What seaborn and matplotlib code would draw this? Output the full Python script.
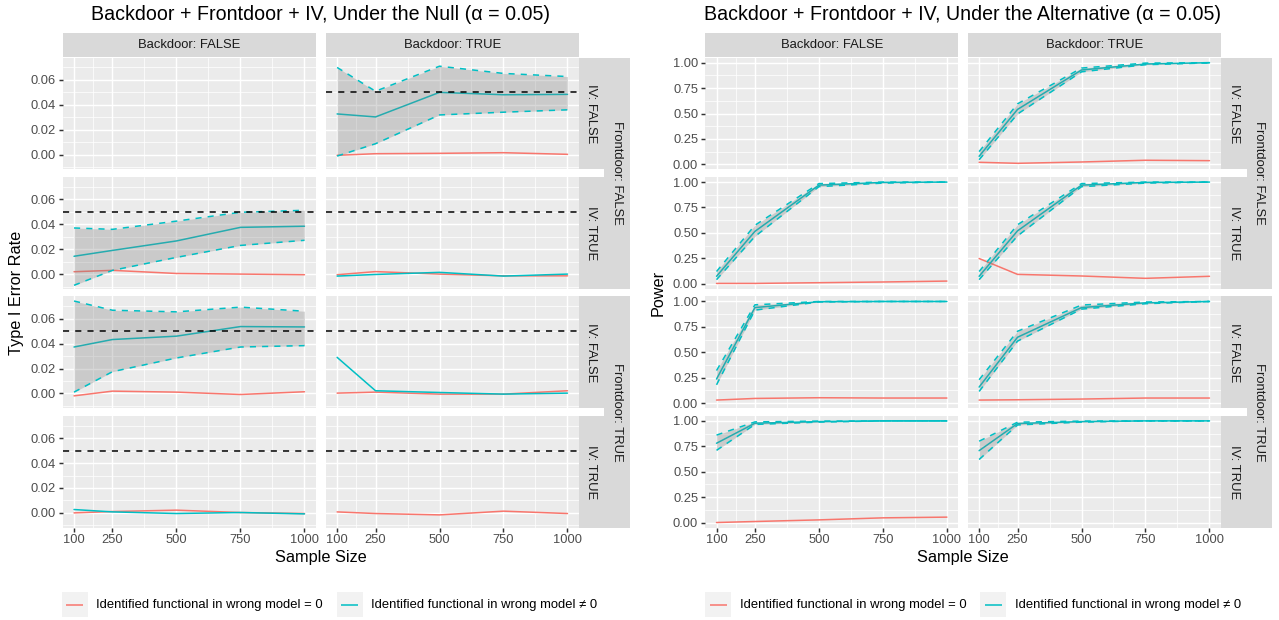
import matplotlib
matplotlib.use("Agg")
import matplotlib.pyplot as plt
import seaborn as sns
from matplotlib.patches import Rectangle
from matplotlib.lines import Line2D
from matplotlib.legend_handler import HandlerBase

# ---------------- data ----------------
sizes = [100, 250, 500, 750, 1000]
x_tick_labels = ["100", "250", "500", "750", "1000"]
x_minor = [175, 375, 625, 875]

backdoor_labels = ["Backdoor: FALSE", "Backdoor: TRUE"]
iv_labels = ["IV: FALSE", "IV: TRUE"]
frontdoor_labels = ["Frontdoor: FALSE", "Frontdoor: TRUE"]
legend_labels = ["Identified functional in wrong model = 0",
                 "Identified functional in wrong model \u2260 0"]

null_title = "Backdoor + Frontdoor + IV, Under the Null (\u03b1 = 0.05)"
alt_title = "Backdoor + Frontdoor + IV, Under the Alternative (\u03b1 = 0.05)"
null_ylabel = "Type I Error Rate"
alt_ylabel = "Power"
xlabel = "Sample Size"
alpha_level = 0.05

null_yticks = [0.00, 0.02, 0.04, 0.06]
null_yminor = [-0.01, 0.01, 0.03, 0.05, 0.07]
alt_yticks = [0.00, 0.25, 0.50, 0.75, 1.00]
alt_yminor = [0.125, 0.375, 0.625, 0.875]

# --- Under the Null (type I error rate); FD = frontdoor, IV, BD = backdoor (0/1)
null_FD0_IV0_BD1_zero = [-0.0005, 0.0008, 0.0011, 0.0016, 0.0003]
null_FD0_IV0_BD1_nonzero = [0.0327, 0.0303, 0.0500, 0.0481, 0.0484]
null_FD0_IV0_BD1_lower = [-0.0011, 0.0088, 0.0319, 0.0341, 0.0360]
null_FD0_IV0_BD1_upper = [0.0700, 0.0509, 0.0710, 0.0652, 0.0627]

null_FD0_IV1_BD0_zero = [0.0019, 0.0030, 0.0005, 0.0000, -0.0005]
null_FD0_IV1_BD0_nonzero = [0.0143, 0.0190, 0.0266, 0.0375, 0.0384]
null_FD0_IV1_BD0_lower = [-0.0090, 0.0030, 0.0134, 0.0230, 0.0271]
null_FD0_IV1_BD0_upper = [0.0370, 0.0359, 0.0425, 0.0496, 0.0512]

null_FD0_IV1_BD1_zero = [-0.0005, 0.0020, 0.0000, -0.0014, -0.0014]
null_FD0_IV1_BD1_nonzero = [-0.0016, -0.0003, 0.0014, -0.0016, 0.0000]

null_FD1_IV0_BD0_zero = [-0.0019, 0.0019, 0.0011, -0.0008, 0.0014]
null_FD1_IV0_BD0_nonzero = [0.0373, 0.0433, 0.0460, 0.0537, 0.0534]
null_FD1_IV0_BD0_lower = [0.0011, 0.0175, 0.0285, 0.0373, 0.0384]
null_FD1_IV0_BD0_upper = [0.0742, 0.0668, 0.0655, 0.0693, 0.0660]

null_FD1_IV0_BD1_zero = [0.0003, 0.0011, -0.0005, -0.0005, 0.0022]
null_FD1_IV0_BD1_nonzero = [0.0290, 0.0022, 0.0008, -0.0005, 0.0003]

null_FD1_IV1_BD0_zero = [0.0000, 0.0011, 0.0022, 0.0003, -0.0005]
null_FD1_IV1_BD0_nonzero = [0.0027, 0.0008, -0.0005, 0.0003, -0.0008]

null_FD1_IV1_BD1_zero = [0.0008, -0.0005, -0.0016, 0.0014, -0.0005]

# --- Under the Alternative (power)
alt_FD0_IV0_BD1_zero = [0.020, 0.010, 0.023, 0.040, 0.036]
alt_FD0_IV0_BD1_nonzero = [0.079, 0.540, 0.928, 0.987, 1.000]
alt_FD0_IV0_BD1_lower = [0.045, 0.495, 0.910, 0.980, 0.998]
alt_FD0_IV0_BD1_upper = [0.125, 0.595, 0.947, 0.996, 1.000]

alt_FD0_IV1_BD0_zero = [0.003, 0.003, 0.010, 0.017, 0.026]
alt_FD0_IV1_BD0_nonzero = [0.073, 0.515, 0.970, 0.997, 1.000]
alt_FD0_IV1_BD0_lower = [0.040, 0.465, 0.955, 0.990, 1.000]
alt_FD0_IV1_BD0_upper = [0.120, 0.575, 0.985, 1.000, 1.000]

alt_FD0_IV1_BD1_zero = [0.248, 0.092, 0.076, 0.053, 0.073]
alt_FD0_IV1_BD1_nonzero = [0.073, 0.520, 0.970, 0.997, 1.000]
alt_FD0_IV1_BD1_lower = [0.040, 0.470, 0.955, 0.990, 1.000]
alt_FD0_IV1_BD1_upper = [0.120, 0.580, 0.985, 1.000, 1.000]

alt_FD1_IV0_BD0_zero = [0.030, 0.046, 0.053, 0.050, 0.050]
alt_FD1_IV0_BD0_nonzero = [0.237, 0.940, 0.998, 1.000, 1.000]
alt_FD1_IV0_BD0_lower = [0.180, 0.915, 0.995, 1.000, 1.000]
alt_FD1_IV0_BD0_upper = [0.320, 0.967, 1.000, 1.000, 1.000]

alt_FD1_IV0_BD1_zero = [0.030, 0.033, 0.040, 0.050, 0.050]
alt_FD1_IV0_BD1_nonzero = [0.158, 0.648, 0.940, 0.987, 1.000]
alt_FD1_IV0_BD1_lower = [0.115, 0.610, 0.925, 0.978, 1.000]
alt_FD1_IV0_BD1_upper = [0.230, 0.707, 0.965, 0.995, 1.000]

alt_FD1_IV1_BD0_zero = [0.000, 0.010, 0.026, 0.046, 0.053]
alt_FD1_IV1_BD0_nonzero = [0.780, 0.977, 0.993, 1.000, 1.000]
alt_FD1_IV1_BD0_lower = [0.710, 0.965, 0.988, 1.000, 1.000]
alt_FD1_IV1_BD0_upper = [0.860, 0.990, 0.998, 1.000, 1.000]

alt_FD1_IV1_BD1_nonzero = [0.707, 0.974, 0.993, 1.000, 1.000]
alt_FD1_IV1_BD1_lower = [0.620, 0.960, 0.988, 1.000, 1.000]
alt_FD1_IV1_BD1_upper = [0.800, 0.987, 0.998, 1.000, 1.000]

# panel registry (row = (frontdoor, iv), col = backdoor)
null_panels = {
    (0, 0, 0): None,
    (0, 0, 1): dict(zero=null_FD0_IV0_BD1_zero, nonzero=null_FD0_IV0_BD1_nonzero,
                    lower=null_FD0_IV0_BD1_lower, upper=null_FD0_IV0_BD1_upper, hline=True),
    (0, 1, 0): dict(zero=null_FD0_IV1_BD0_zero, nonzero=null_FD0_IV1_BD0_nonzero,
                    lower=null_FD0_IV1_BD0_lower, upper=null_FD0_IV1_BD0_upper, hline=True),
    (0, 1, 1): dict(zero=null_FD0_IV1_BD1_zero, nonzero=null_FD0_IV1_BD1_nonzero, hline=True),
    (1, 0, 0): dict(zero=null_FD1_IV0_BD0_zero, nonzero=null_FD1_IV0_BD0_nonzero,
                    lower=null_FD1_IV0_BD0_lower, upper=null_FD1_IV0_BD0_upper, hline=True),
    (1, 0, 1): dict(zero=null_FD1_IV0_BD1_zero, nonzero=null_FD1_IV0_BD1_nonzero, hline=True),
    (1, 1, 0): dict(zero=null_FD1_IV1_BD0_zero, nonzero=null_FD1_IV1_BD0_nonzero, hline=True),
    (1, 1, 1): dict(zero=null_FD1_IV1_BD1_zero, hline=True),
}
alt_panels = {
    (0, 0, 0): None,
    (0, 0, 1): dict(zero=alt_FD0_IV0_BD1_zero, nonzero=alt_FD0_IV0_BD1_nonzero,
                    lower=alt_FD0_IV0_BD1_lower, upper=alt_FD0_IV0_BD1_upper),
    (0, 1, 0): dict(zero=alt_FD0_IV1_BD0_zero, nonzero=alt_FD0_IV1_BD0_nonzero,
                    lower=alt_FD0_IV1_BD0_lower, upper=alt_FD0_IV1_BD0_upper),
    (0, 1, 1): dict(zero=alt_FD0_IV1_BD1_zero, nonzero=alt_FD0_IV1_BD1_nonzero,
                    lower=alt_FD0_IV1_BD1_lower, upper=alt_FD0_IV1_BD1_upper),
    (1, 0, 0): dict(zero=alt_FD1_IV0_BD0_zero, nonzero=alt_FD1_IV0_BD0_nonzero,
                    lower=alt_FD1_IV0_BD0_lower, upper=alt_FD1_IV0_BD0_upper),
    (1, 0, 1): dict(zero=alt_FD1_IV0_BD1_zero, nonzero=alt_FD1_IV0_BD1_nonzero,
                    lower=alt_FD1_IV0_BD1_lower, upper=alt_FD1_IV0_BD1_upper),
    (1, 1, 0): dict(zero=alt_FD1_IV1_BD0_zero, nonzero=alt_FD1_IV1_BD0_nonzero,
                    lower=alt_FD1_IV1_BD0_lower, upper=alt_FD1_IV1_BD0_upper),
    (1, 1, 1): dict(nonzero=alt_FD1_IV1_BD1_nonzero,
                    lower=alt_FD1_IV1_BD1_lower, upper=alt_FD1_IV1_BD1_upper),
}

# ---------------- style ----------------
sns.set_theme(style="darkgrid")
plt.rcParams["font.family"] = ["Liberation Sans", "DejaVu Sans"]

RED = "#F8766D"
CYAN = "#00BFC4"
PANEL_BG = "#EBEBEB"
STRIP_BG = "#D9D9D9"
KEY_BG = "#F2F2F2"
LW = 1.1
DASH = (0, (4, 4))
FS_TICK = 9.3
FS_STRIP = 9.4
FS_LEG = 9.4
FS_AXT = 11.7
FS_TITLE = 14.1

W, H = 1279, 620
fig = plt.figure(figsize=(W / 100, H / 100), dpi=100)
fig.patch.set_facecolor("white")


class KeyHandler(HandlerBase):
    """ggplot-like legend key: grey box with an inset line in the middle."""

    def create_artists(self, legend, orig_handle, xdescent, ydescent, width, height,
                       fontsize, trans):
        box = Rectangle((-xdescent, -ydescent), width, height, facecolor=KEY_BG,
                        edgecolor="none", transform=trans)
        yc = -ydescent + height / 2
        inset = 0.17 * width
        line = Line2D([-xdescent + inset, -xdescent + width - inset], [yc, yc],
                      color=orig_handle.get_color(), lw=orig_handle.get_linewidth(),
                      transform=trans, solid_capstyle="butt")
        return [box, line]


def add_px(x0, y0, x1, y1):
    return fig.add_axes([x0 / W, 1 - y1 / H, (x1 - x0) / W, (y1 - y0) / H])


ROW_TOP0, ROW_H, ROW_STEP = 57.6, 111.8, 119.4
STRIP_Y = (32.5, 56.9)


def strip(x0, y0, x1, y1, text, rotation=0):
    sa = add_px(x0, y0, x1, y1)
    sa.set_facecolor(STRIP_BG)
    sa.set_xticks([])
    sa.set_yticks([])
    sa.grid(False)
    for s in sa.spines.values():
        s.set_visible(False)
    sa.text(0.5, 0.5, text, transform=sa.transAxes, ha="center", va="center",
            rotation=rotation, fontsize=FS_STRIP, color="#1A1A1A")


def draw_panel(ax, spec, ylim, yticks, yminor, first_col, last_row):
    ax.set_facecolor(PANEL_BG)
    for s in ax.spines.values():
        s.set_visible(False)
    if spec is not None:
        if spec.get("zero") is not None:
            sns.lineplot(x=sizes, y=spec["zero"], ax=ax, color=RED, lw=LW,
                         errorbar=None, zorder=3)
        if spec.get("nonzero") is not None:
            sns.lineplot(x=sizes, y=spec["nonzero"], ax=ax, color=CYAN, lw=LW,
                         errorbar=None, zorder=3)
        if spec.get("lower") is not None:
            ax.fill_between(sizes, spec["lower"], spec["upper"], color="#7F7F7F",
                            alpha=0.3, lw=0, zorder=4)
            sns.lineplot(x=sizes, y=spec["lower"], ax=ax, color=CYAN, lw=LW,
                         linestyle=DASH, errorbar=None, zorder=5)
            sns.lineplot(x=sizes, y=spec["upper"], ax=ax, color=CYAN, lw=LW,
                         linestyle=DASH, errorbar=None, zorder=5)
        if spec.get("hline"):
            ax.axhline(alpha_level, color="black", lw=LW, linestyle=DASH, zorder=6)
    ax.set_xlim(55, 1045)
    ax.set_ylim(*ylim)
    ax.set_xticks(sizes)
    ax.set_xticks(x_minor, minor=True)
    ax.set_xticklabels(x_tick_labels)
    ax.set_yticks(yticks)
    ax.set_yticks(yminor, minor=True)
    ax.set_yticklabels([f"{v:.2f}" for v in yticks])
    ax.set_axisbelow(True)
    ax.grid(True, which="major", color="white", lw=1.07)
    ax.grid(True, which="minor", color="white", lw=0.53)
    ax.tick_params(which="minor", length=0)
    ax.tick_params(which="major", length=2.75, width=1.07, color="#333333",
                   labelsize=FS_TICK, labelcolor="#4D4D4D", pad=2.2,
                   left=first_col, labelleft=first_col,
                   bottom=last_row, labelbottom=last_row)
    ax.set_xlabel("")
    ax.set_ylabel("")


def draw_chart(panels, cols, inner, outer, ylim, yticks, yminor, title, ylab, ylab_x, legend_cx):
    for r in range(4):
        fd, iv = divmod(r, 2)
        top = ROW_TOP0 + r * ROW_STEP
        for c in range(2):
            ax = add_px(cols[c][0], top, cols[c][1], top + ROW_H)
            draw_panel(ax, panels[(fd, iv, c)], ylim, yticks, yminor, c == 0, r == 3)
        strip(inner[0], top, inner[1], top + ROW_H, iv_labels[iv], rotation=-90)
    for fd in range(2):
        top = ROW_TOP0 + 2 * fd * ROW_STEP
        strip(outer[0], top, outer[1], top + ROW_STEP + ROW_H, frontdoor_labels[fd], rotation=-90)
    for c in range(2):
        strip(cols[c][0], STRIP_Y[0], cols[c][1], STRIP_Y[1], backdoor_labels[c])
    cx = (cols[0][0] + cols[1][1]) / 2
    fig.text(cx / W, 1 - 14 / H, title, ha="center", va="center", fontsize=FS_TITLE, color="black")
    fig.text(cx / W, 1 - 557.5 / H, xlabel, ha="center", va="center", fontsize=FS_AXT, color="black")
    fig.text(ylab_x / W, 1 - 292.6 / H, ylab, ha="center", va="center", rotation=90,
             fontsize=FS_AXT, color="black")
    handles = [Line2D([], [], color=RED, lw=LW), Line2D([], [], color=CYAN, lw=LW)]
    em = FS_LEG * 100 / 72
    fig.legend(handles, legend_labels, loc="center", bbox_to_anchor=(legend_cx / W, 1 - 604.5 / H),
               ncol=2, frameon=False, handler_map={Line2D: KeyHandler()},
               handlelength=26 / em, handleheight=2.64, handletextpad=8.4 / em,
               columnspacing=14 / em, fontsize=FS_LEG, borderpad=0, borderaxespad=0,
               labelcolor="black")


draw_chart(null_panels, [(62.5, 316.0), (325.6, 579.0)], (579.0, 604.0), (604.0, 630.0),
           (-0.0118, 0.0779), null_yticks, null_yminor, null_title, null_ylabel, 17, 329.5)
draw_chart(alt_panels, [(705.0, 958.4), (967.6, 1221.0)], (1221.0, 1246.5), (1246.5, 1272.0),
           (-0.05, 1.05), alt_yticks, alt_yminor, alt_title, alt_ylabel, 658, 973)

fig.savefig("out.png", dpi=100, facecolor="white")
